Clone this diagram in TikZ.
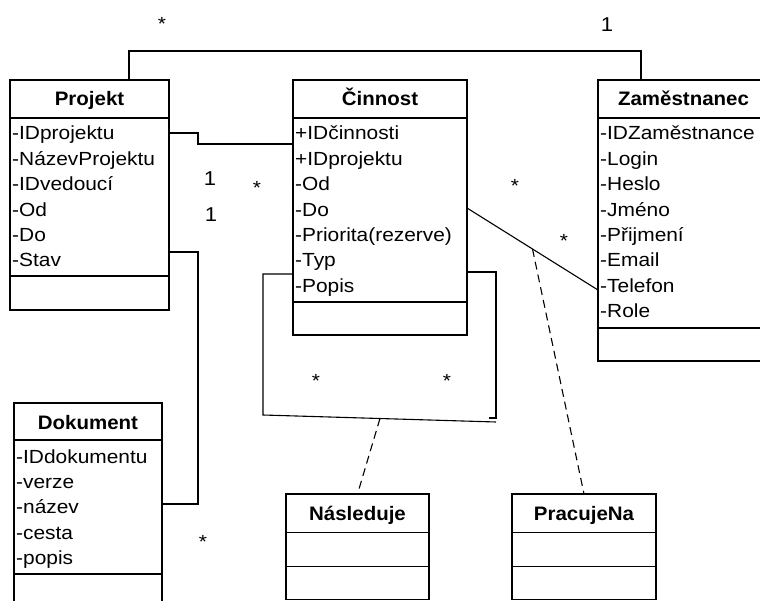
\documentclass[tikz,border=0pt]{standalone}
\usepackage{fontspec}
\setmainfont{Liberation Sans}
\newfontfamily\attrfont[FakeStretch=1.10]{Liberation Sans}
\newfontfamily\titlefont[FakeStretch=1.05]{Liberation Sans}
\usetikzlibrary{calc}

\tikzset{
  classbox/.style={draw, line width=1.9pt, rectangle, inner sep=0pt, outer sep=0pt, anchor=north west},
  sepline/.style={line width=1.9pt},
  classtitle/.style={anchor=base, inner sep=0pt, font=\titlefont\bfseries\fontsize{19.5}{22}\selectfont},
  attr/.style={anchor=base west, inner sep=0pt, font=\attrfont\fontsize{19}{22}\selectfont},
  link/.style={line width=1.1pt},
  deplink/.style={line width=1.1pt, dash pattern=on 8pt off 5pt},
  multstar/.style={anchor=base, inner sep=0pt, font=\attrfont\fontsize{19}{22}\selectfont},
  multone/.style={anchor=center, inner sep=0pt, font=\attrfont\fontsize{20}{22}\selectfont},
}

\begin{document}
\begin{tikzpicture}[x=1pt, y=-1pt]
\useasboundingbox (0,0) rectangle (760,601);

% ---------- classes ----------
% Projekt
\node[classbox, minimum width=159pt, minimum height=230pt] (proj) at (10,80) {};
\draw[sepline] ($(proj.north west)+(0,38)$) -- ($(proj.north east)+(0,38)$);
\draw[sepline] ($(proj.north west)+(0,196)$) -- ($(proj.north east)+(0,196)$);
\node[classtitle] (proj-t) at ($(proj.north)+(0,26)$) {Projekt};
\foreach \a [count=\i from 0] in {-IDprojektu,-NázevProjektu,-IDvedoucí,-Od,-Do,-Stav}
  \node[attr] (proj-a\i) at ($(proj.north west)+(2,60+25.4*\i)$) {\a};

% Činnost
\node[classbox, minimum width=174pt, minimum height=255pt] (cinn) at (293,80) {};
\draw[sepline] ($(cinn.north west)+(0,38)$) -- ($(cinn.north east)+(0,38)$);
\draw[sepline] ($(cinn.north west)+(0,222)$) -- ($(cinn.north east)+(0,222)$);
\node[classtitle] (cinn-t) at ($(cinn.north)+(0,26)$) {Činnost};
\foreach \a [count=\i from 0] in {+IDčinnosti,+IDprojektu,-Od,-Do,-Priorita(rezerve),-Typ,-Popis}
  \node[attr] (cinn-a\i) at ($(cinn.north west)+(2,60+25.4*\i)$) {\a};

% Zaměstnanec
\node[classbox, minimum width=171pt, minimum height=281pt] (zam) at (598,80) {};
\draw[sepline] ($(zam.north west)+(0,38)$) -- ($(zam.north east)+(0,38)$);
\draw[sepline] ($(zam.north west)+(0,248)$) -- ($(zam.north east)+(0,248)$);
\node[classtitle] (zam-t) at ($(zam.north)+(0,26)$) {Zaměstnanec};
\foreach \a [count=\i from 0] in {-IDZaměstnance,-Login,-Heslo,-Jméno,-Přijmení,-Email,-Telefon,-Role}
  \node[attr] (zam-a\i) at ($(zam.north west)+(2,60+25.4*\i)$) {\a};

% Dokument
\node[classbox, minimum width=148pt, minimum height=222pt] (dok) at (14,403) {};
\draw[sepline] ($(dok.north west)+(0,37)$) -- ($(dok.north east)+(0,37)$);
\draw[sepline] ($(dok.north west)+(0,171)$) -- ($(dok.north east)+(0,171)$);
\node[classtitle] (dok-t) at ($(dok.north)+(0,26)$) {Dokument};
\foreach \a [count=\i from 0] in {-IDdokumentu,-verze,-název,-cesta,-popis}
  \node[attr] (dok-a\i) at ($(dok.north west)+(2,60+25.4*\i)$) {\a};

% Následuje
\node[classbox, minimum width=143pt, minimum height=105.5pt] (nasl) at (286,494) {};
\draw[sepline] ($(nasl.north west)+(0,38.5)$) -- ($(nasl.north east)+(0,38.5)$);
\draw[sepline] ($(nasl.north west)+(0,72.5)$) -- ($(nasl.north east)+(0,72.5)$);
\node[classtitle] (nasl-t) at ($(nasl.north)+(0,26)$) {Následuje};

% PracujeNa
\node[classbox, minimum width=144pt, minimum height=105.5pt] (prac) at (512,494) {};
\draw[sepline] ($(prac.north west)+(0,38.5)$) -- ($(prac.north east)+(0,38.5)$);
\draw[sepline] ($(prac.north west)+(0,72.5)$) -- ($(prac.north east)+(0,72.5)$);
\node[classtitle] (prac-t) at ($(prac.north)+(0,26)$) {PracujeNa};

% ---------- associations ----------
% Projekt -- Zaměstnanec (over the top)
\draw[link] ($(proj.north west)+(119,0)$) -- ++(0,-29) -| ($(zam.north west)+(43,0)$);

% Projekt -- Činnost
\draw[link] ($(proj.north east)+(0,53)$) -- ++(29,0) -- ++(0,11) -- ($(cinn.north west)+(0,64)$);

% Projekt -- Dokument
\draw[link] ($(proj.north east)+(0,172)$) -- ++(29,0) |- ($(dok.north east)+(0,101)$);

% Činnost -- Činnost (self association)
\coordinate (selfL) at ($(cinn.north west)+(-30,335)$);
\coordinate (selfR) at ($(cinn.north east)+(29,342)$);
\draw[link] ($(cinn.north west)+(0,194)$) -- ++(-30,0) -- (selfL) -- (selfR);
\draw[link] ($(cinn.north east)+(0,192)$) -- ++(29,0) -- ++(0,146) -- ++(-7,0);
\draw[deplink] ($(selfL)!0.502!(selfR)$) -- (nasl.north);

% Činnost -- Zaměstnanec
\coordinate (czA) at ($(cinn.north east)+(0,128)$);
\coordinate (czB) at ($(zam.north west)+(0,210)$);
\draw[link] (czA) -- (czB);
\draw[deplink] ($(czA)!0.5!(czB)$) -- (prac.north);

% ---------- multiplicities ----------
\node[multstar] (m1) at (162,31) {*};
\node[multone]  (m2) at (607,25) {1};
\node[multone]  (m3) at (210,179) {1};
\node[multstar] (m4) at (257,195) {*};
\node[multone]  (m5) at (211,215) {1};
\node[multstar] (m6) at (515,193) {*};
\node[multstar] (m7) at (564,248) {*};
\node[multstar] (m8) at (316,388) {*};
\node[multstar] (m9) at (447,388) {*};
\node[multstar] (m10) at (203,548) {*};
\end{tikzpicture}
\end{document}
